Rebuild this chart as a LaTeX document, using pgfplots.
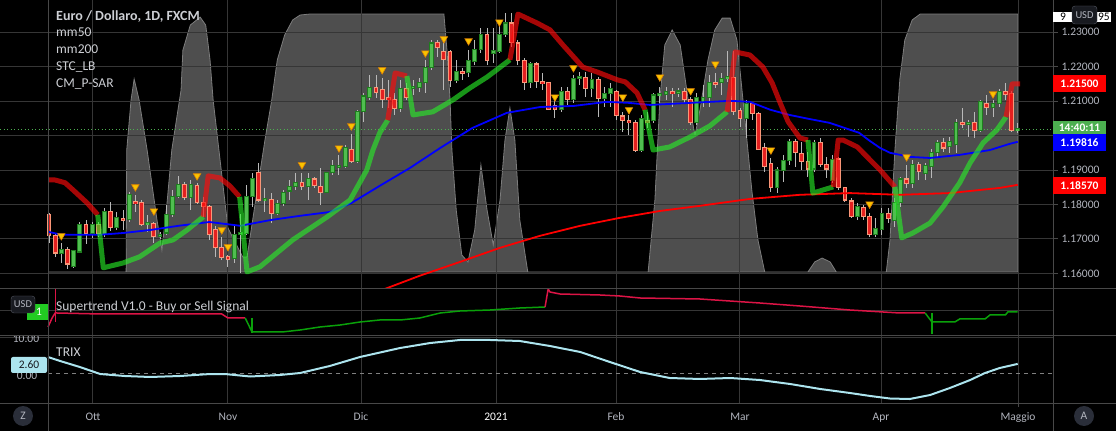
\documentclass[border=0pt]{standalone}
\usepackage{fontspec}
\setmainfont{Carlito}
\usepackage{pgfplots}
\usepackage{pgfplotstable}
\pgfplotsset{compat=1.18}

\definecolor{gridgray}{RGB}{54,54,54}
\definecolor{sepgray}{RGB}{72,72,72}
\definecolor{labelgray}{RGB}{178,181,190}
\definecolor{legendgray}{RGB}{205,207,212}
\definecolor{stcfill}{RGB}{78,78,78}
\definecolor{stcedge}{RGB}{125,125,125}
\definecolor{upfill}{RGB}{80,190,80}
\definecolor{upedge}{RGB}{30,125,30}
\definecolor{dnfill}{RGB}{228,32,32}
\definecolor{dnedge}{RGB}{250,150,120}
\definecolor{wick}{RGB}{185,185,185}
\definecolor{stopred}{RGB}{255,10,10}
\definecolor{stopgreen}{RGB}{40,240,40}
\definecolor{sargold}{RGB}{250,195,0}
\definecolor{sarorange}{RGB}{225,130,0}
\definecolor{strred}{RGB}{220,20,70}
\definecolor{strgreen}{RGB}{10,160,10}
\definecolor{trixblue}{RGB}{172,228,238}
\definecolor{pricegreen}{RGB}{76,175,80}
\definecolor{badge}{RGB}{24,26,32}
\definecolor{badgeedge}{RGB}{85,88,98}
\definecolor{signalgreen}{RGB}{34,204,34}
\definecolor{btngray}{RGB}{42,46,57}

% daily candles, x = bar index (0 = 22 Sep 2020)
\pgfplotstableread{
x o h l c
2 1.1659 1.1688 1.1630 1.1668
4 1.1619 1.1668 1.1616 1.1665
5 1.1662 1.1749 1.1659 1.1743
7 1.1717 1.1749 1.1703 1.1743
9 1.1712 1.1790 1.1706 1.1781
11 1.1732 1.1778 1.1726 1.1761
13 1.1755 1.1836 1.1749 1.1830
16 1.1743 1.1770 1.1720 1.1746
18 1.1706 1.1720 1.1700 1.1714
19 1.1717 1.1799 1.1712 1.1770
20 1.1770 1.1842 1.1764 1.1822
21 1.1822 1.1883 1.1819 1.1857
23 1.1819 1.1871 1.1784 1.1857
30 1.1642 1.1741 1.1630 1.1712
31 1.1712 1.1772 1.1601 1.1720
32 1.1717 1.1857 1.1712 1.1822
33 1.1822 1.1892 1.1793 1.1874
35 1.1812 1.1848 1.1778 1.1815
37 1.1775 1.1813 1.1770 1.1804
38 1.1804 1.1842 1.1796 1.1836
39 1.1839 1.1871 1.1813 1.1851
40 1.1851 1.1892 1.1842 1.1863
42 1.1851 1.1892 1.1813 1.1874
45 1.1836 1.1894 1.1833 1.1892
46 1.1892 1.1929 1.1886 1.1912
47 1.1910 1.1944 1.1886 1.1913
48 1.1909 1.1973 1.1906 1.1964
50 1.1924 1.2075 1.1921 1.2069
51 1.2069 1.2124 1.2040 1.2115
52 1.2112 1.2176 1.2104 1.2141
57 1.2080 1.2162 1.2069 1.2136
59 1.2136 1.2162 1.2118 1.2144
60 1.2141 1.2167 1.2127 1.2153
61 1.2153 1.2220 1.2124 1.2199
62 1.2199 1.2278 1.2191 1.2269
66 1.2159 1.2220 1.2153 1.2185
68 1.2182 1.2249 1.2170 1.2217
69 1.2214 1.2278 1.2205 1.2249
70 1.2249 1.2313 1.2240 1.2295
72 1.2240 1.2313 1.2211 1.2246
73 1.2243 1.2336 1.2240 1.2295
74 1.2295 1.2356 1.2287 1.2327
78 1.2153 1.2214 1.2138 1.2208
83 1.2077 1.2141 1.2069 1.2127
85 1.2104 1.2176 1.2095 1.2165
86 1.2165 1.2185 1.2147 1.2173
88 1.2138 1.2182 1.2112 1.2162
90 1.2109 1.2141 1.2083 1.2121
91 1.2121 1.2153 1.2083 1.2136
96 1.1958 1.2060 1.1953 1.2051
98 1.2043 1.2124 1.2037 1.2118
99 1.2117 1.2141 1.2095 1.2120
100 1.2118 1.2141 1.2104 1.2127
102 1.2125 1.2138 1.2112 1.2128
105 1.2037 1.2124 1.2031 1.2112
106 1.2095 1.2147 1.2083 1.2112
107 1.2112 1.2176 1.2083 1.2153
109 1.2153 1.2182 1.2118 1.2165
110 1.2165 1.2246 1.2156 1.2170
113 1.2051 1.2104 1.1993 1.2092
118 1.1848 1.1909 1.1833 1.1900
119 1.1900 1.1944 1.1865 1.1929
120 1.1929 1.1990 1.1915 1.1982
124 1.1903 1.1987 1.1894 1.1979
127 1.1871 1.1944 1.1863 1.1932
131 1.1764 1.1804 1.1755 1.1793
134 1.1714 1.1761 1.1706 1.1729
135 1.1726 1.1790 1.1712 1.1775
137 1.1752 1.1819 1.1735 1.1807
138 1.1807 1.1880 1.1793 1.1874
140 1.1860 1.1929 1.1848 1.1915
142 1.1889 1.1921 1.1871 1.1912
143 1.1909 1.1961 1.1877 1.1950
144 1.1950 1.1987 1.1938 1.1979
146 1.1967 1.1996 1.1950 1.1982
147 1.1973 1.2048 1.1950 1.2037
149 1.2035 1.2045 1.1996 1.2038
151 1.2014 1.2104 1.2011 1.2098
153 1.2083 1.2104 1.2054 1.2092
154 1.2092 1.2136 1.2083 1.2127
157 1.2014 1.2037 1.2008 1.2020
}\upcandles

\pgfplotstableread{
x o h l c
0 1.1772 1.1775 1.1688 1.1709
1 1.1709 1.1714 1.1648 1.1659
3 1.1668 1.1677 1.1613 1.1627
6 1.1743 1.1755 1.1685 1.1717
8 1.1743 1.1749 1.1706 1.1717
10 1.1781 1.1807 1.1723 1.1732
12 1.1759 1.1784 1.1726 1.1756
14 1.1807 1.1828 1.1778 1.1804
15 1.1807 1.1813 1.1738 1.1743
17 1.1746 1.1749 1.1688 1.1706
22 1.1857 1.1865 1.1813 1.1819
24 1.1854 1.1863 1.1801 1.1807
25 1.1807 1.1822 1.1764 1.1793
26 1.1793 1.1799 1.1697 1.1712
27 1.1726 1.1738 1.1648 1.1674
28 1.1674 1.1706 1.1639 1.1645
29 1.1646 1.1653 1.1619 1.1643
34 1.1892 1.1921 1.1807 1.1813
36 1.1813 1.1833 1.1746 1.1775
41 1.1863 1.1892 1.1842 1.1851
43 1.1874 1.1880 1.1848 1.1854
44 1.1851 1.1906 1.1799 1.1836
49 1.1961 1.2005 1.1921 1.1924
53 1.2141 1.2176 1.2109 1.2124
54 1.2133 1.2167 1.2080 1.2106
55 1.2108 1.2162 1.2080 1.2105
56 1.2104 1.2124 1.2060 1.2080
58 1.2136 1.2153 1.2104 1.2112
63 1.2269 1.2278 1.2228 1.2255
64 1.2243 1.2278 1.2133 1.2220
65 1.2243 1.2249 1.2141 1.2159
67 1.2186 1.2197 1.2162 1.2183
71 1.2295 1.2313 1.2205 1.2217
75 1.2327 1.2356 1.2257 1.2269
76 1.2269 1.2278 1.2205 1.2217
77 1.2217 1.2226 1.2133 1.2153
79 1.2208 1.2214 1.2138 1.2156
80 1.2156 1.2182 1.2133 1.2151
81 1.2153 1.2156 1.2075 1.2077
82 1.2086 1.2104 1.2051 1.2075
84 1.2127 1.2141 1.2089 1.2104
87 1.2170 1.2185 1.2112 1.2138
89 1.2162 1.2170 1.2054 1.2109
92 1.2127 1.2133 1.2045 1.2057
93 1.2057 1.2069 1.2011 1.2043
94 1.2045 1.2060 1.2002 1.2037
95 1.2037 1.2045 1.1953 1.1958
97 1.2045 1.2069 1.2022 1.2037
101 1.2127 1.2138 1.2083 1.2121
103 1.2127 1.2138 1.2095 1.2104
104 1.2106 1.2112 1.2031 1.2037
108 1.2154 1.2182 1.2138 1.2151
111 1.2170 1.2246 1.2060 1.2069
112 1.2072 1.2080 1.2025 1.2051
114 1.2092 1.2098 1.2045 1.2063
115 1.2063 1.2069 1.1958 1.1961
116 1.1964 1.1979 1.1894 1.1909
117 1.1918 1.1935 1.1836 1.1848
121 1.1982 1.1990 1.1909 1.1950
122 1.1947 1.1982 1.1900 1.1924
123 1.1926 1.1953 1.1880 1.1903
125 1.1979 1.1993 1.1909 1.1915
126 1.1915 1.1938 1.1877 1.1903
128 1.1932 1.1938 1.1842 1.1848
129 1.1848 1.1851 1.1807 1.1813
130 1.1810 1.1819 1.1761 1.1764
132 1.1790 1.1799 1.1755 1.1764
133 1.1764 1.1775 1.1706 1.1714
136 1.1775 1.1790 1.1746 1.1758
139 1.1874 1.1915 1.1848 1.1860
141 1.1915 1.1924 1.1871 1.1897
145 1.1979 1.1993 1.1953 1.1964
148 1.2038 1.2080 1.2022 1.2035
150 1.2037 1.2069 1.1993 1.2014
152 1.2092 1.2118 1.2060 1.2083
155 1.2127 1.2153 1.2104 1.2118
156 1.2121 1.2130 1.2011 1.2014
}\dncandles

% STC_LB oscillator (0-100)
\pgfplotstableread{
x v
-0.16 0
12.5 0
12.6 47.3
13.3 66.7
13.8 74.8
14.6 66.7
15.9 47.3
17.5 20.2
18.3 8.5
19.1 26
19.9 47.3
20.9 62.8
21.4 70.5
21.7 86
22.9 95.7
24.5 98.8
25.4 95.7
26.1 82.2
26.6 66.7
29.0 17.1
31.4 5.8
32.1 5.8
33.5 27.9
35.0 51.2
36.1 66.7
37.0 82.2
38.2 91.9
39.5 97.7
40.7 99.6
42.3 100
64.0 100
64.5 86
65.0 66.7
65.3 47.3
66.0 24
66.9 6.6
67.9 3.9
69.0 16.3
70.0 41.5
71.0 24
72.0 10.5
73.1 27.9
73.9 51.2
74.7 63.6
75.5 51.2
76.3 20.2
77.6 0
97.1 0
98.2 27.9
99.0 66.7
99.8 88
101.0 93.8
102.3 88
103.6 66.7
104.7 53
105.5 62.8
106.8 82.2
107.9 93.8
109.1 98.4
110.4 98.4
111.5 89.9
112.8 58.9
113.9 31.8
114.9 12.4
116.0 0
123.0 0
124.1 3.9
125.3 5.4
126.6 3.9
127.6 0
135.7 0
136.3 12.4
137.1 47.3
137.9 74.8
138.7 89.9
139.9 97.7
141.2 100
157.0 100
}\stc

\pgfplotstableread{
x y
0 1.1720
2 1.1712
8.3 1.1712
12 1.1717
16.5 1.1726
21 1.1738
26 1.1749
31 1.1738
36 1.1755
40.7 1.1767
45.5 1.1778
49 1.1804
53.6 1.1854
58.5 1.1906
63.4 1.1964
68.6 1.2022
74.2 1.2066
79.6 1.2083
85 1.2086
90.4 1.2098
94 1.2095
97.4 1.2089
103.9 1.2095
110.4 1.2101
113.6 1.2098
116.9 1.2075
120 1.2060
123.3 1.2048
126.5 1.2037
128 1.2028
131.3 1.2008
133 1.1985
134.7 1.1964
136.3 1.1950
139.6 1.1938
142.8 1.1935
147.6 1.1944
152.5 1.1958
155.7 1.1976
157 1.1982
}\mmfifty

\pgfplotstableread{
x y
52 1.1543
54.5 1.1555
60.1 1.1593
66.6 1.1633
73.1 1.1674
79.6 1.1709
86.1 1.1738
92.5 1.1761
99.0 1.1781
105.5 1.1796
113.6 1.1816
121.7 1.1828
129.8 1.1833
137.9 1.1828
146.0 1.1833
154.1 1.1848
157 1.1857
}\mmtwohundred

\pgfplotstableread{
x y
2 1.1709
14 1.1851
17 1.1781
24 1.1883
28 1.1726
29 1.1677
41 1.1915
47 1.1964
49 1.2028
54 1.2191
61 1.2240
64 1.2281
68 1.2275
73 1.2330
82 1.2112
85 1.2197
93 1.2112
94 1.2075
99 1.2170
104 1.2130
108 1.2208
117 1.1958
133 1.1801
139 1.1938
153 1.2121
}\psar

\pgfplotstableread{
x v
-0.16 4.57
1.8 3.43
5.0 1.71
8.3 -0.29
12.3 -0.86
16.4 -1.14
21.2 -0.86
26.1 -0.29
28.5 -0.29
32.6 -1.0
37.4 -0.57
40.7 0
45.5 2.0
50.4 4.57
56.9 7.14
61.8 8.57
66.6 9.43
71.5 9.43
76.3 9.14
81.2 7.71
86.1 6.0
90.9 3.14
95.8 0.29
100.6 -1.43
105.5 -1.71
110.4 -1.43
115.2 -2.0
120.1 -3.14
125.0 -4.57
129.8 -5.71
133.1 -6.57
136.3 -7.29
139.5 -7.43
142.8 -6.29
146.0 -4.29
149.3 -2.0
151.7 0
154.1 1.43
157 2.60
}\trix

\newcommand\lblfont{\fontsize{11.5}{13}\selectfont}
\newcommand\legfont{\fontsize{13.5}{15}\selectfont}

\pgfplotsset{pane/.style={anchor=south west,scale only axis,width=1053pt,
  xmin=-7.942,xmax=162.72}}

\begin{document}
\begin{tikzpicture}
\fill[black] (0pt,0pt) rectangle (1116pt,431pt);

% STC_LB shaded oscillator, own 0-100 scale over the price pane
\begin{axis}[pane,at={(0pt,143pt)},height=288pt,ymin=-6.2,ymax=105.43,hide axis]
\addplot[fill=stcfill,draw=stcedge,line width=0.8pt] table[x=x,y=v] {\stc} \closedcycle;
\end{axis}

% price pane
\begin{axis}[pane,at={(0pt,143pt)},height=288pt,ymin=1.15573,ymax=1.23938,
  axis line style={draw=none},
  xtick={-0.16,7.13,29.01,50.57,72.45,91.90,111.99,134.85,157.05},xticklabels={},
  ytick={1.16,1.17,1.18,1.19,1.20,1.21,1.22,1.23},
  yticklabels={1.16000,1.17000,1.18000,1.19000,,1.21000,1.22000,1.23000},
  ytick pos=right,yticklabel pos=right,tick align=outside,major tick length=5pt,
  xtick style={draw=none},ytick style={draw=sepgray,line width=0.8pt},
  yticklabel style={font=\lblfont,text=labelgray},
  grid=major,major grid style={draw=gridgray,line width=1pt}]

\addplot[draw=pricegreen,line width=1pt,dash pattern=on 1pt off 2.5pt] coordinates {(-7.94,1.2019) (162.72,1.2019)};

% wicks
\addplot[draw=none,error bars/.cd,y dir=both,y explicit,error mark=none,
  error bar style={draw=wick,line width=1pt}]
  table[x=x,y expr={(\thisrow{h}+\thisrow{l})/2},y error expr={(\thisrow{h}-\thisrow{l})/2}] {\upcandles};
\addplot[draw=none,error bars/.cd,y dir=both,y explicit,error mark=none,
  error bar style={draw=wick,line width=1pt}]
  table[x=x,y expr={(\thisrow{h}+\thisrow{l})/2},y error expr={(\thisrow{h}-\thisrow{l})/2}] {\dncandles};
% bodies: border then fill
\addplot[draw=none,error bars/.cd,y dir=both,y explicit,error mark=none,
  error bar style={draw=upedge,line width=4.8pt}]
  table[x=x,y expr={(\thisrow{o}+\thisrow{c})/2},y error expr={max(abs(\thisrow{o}-\thisrow{c})/2,0.0003)+0.00015}] {\upcandles};
\addplot[draw=none,error bars/.cd,y dir=both,y explicit,error mark=none,
  error bar style={draw=upfill,line width=2.8pt}]
  table[x=x,y expr={(\thisrow{o}+\thisrow{c})/2},y error expr={max(abs(\thisrow{o}-\thisrow{c})/2,0.0003)-0.00015}] {\upcandles};
\addplot[draw=none,error bars/.cd,y dir=both,y explicit,error mark=none,
  error bar style={draw=dnedge,line width=4.8pt}]
  table[x=x,y expr={(\thisrow{o}+\thisrow{c})/2},y error expr={max(abs(\thisrow{o}-\thisrow{c})/2,0.0003)+0.00015}] {\dncandles};
\addplot[draw=none,error bars/.cd,y dir=both,y explicit,error mark=none,
  error bar style={draw=dnfill,line width=2.8pt}]
  table[x=x,y expr={(\thisrow{o}+\thisrow{c})/2},y error expr={max(abs(\thisrow{o}-\thisrow{c})/2,0.0003)-0.00015}] {\dncandles};

% moving averages
\addplot[draw=blue,line width=1.8pt] table[x=x,y=y] {\mmfifty};
\addplot[draw=red,line width=1.8pt] table[x=x,y=y] {\mmtwohundred};

% trailing stop line
\pgfplotsset{stopR/.style={draw=stopred,line width=5pt,opacity=0.65,line join=round},
             stopG/.style={draw=stopgreen,line width=5pt,opacity=0.62,line join=round}}
\addplot[stopR] coordinates {(-0.16,1.1871) (1,1.1871) (2.6,1.1863) (3.9,1.1842) (6.2,1.1804) (7.9,1.1770)};
\addplot[stopG] coordinates {(7.9,1.1770) (8.8,1.1616) (12.0,1.1630) (14.7,1.1648) (18.0,1.1688) (20.1,1.1697) (22.4,1.1726) (25.0,1.1764)};
\addplot[stopR] coordinates {(25.0,1.1764) (25.8,1.1883) (27.7,1.1877) (29.3,1.1854) (30.9,1.1822)};
\addplot[stopG] coordinates {(30.9,1.1822) (32.1,1.1604) (34.2,1.1619) (39.5,1.1697) (45.1,1.1764) (48.8,1.1813) (51.5,1.1900) (52.5,1.1958) (53.6,1.2008) (54.9,1.2045)};
\addplot[stopR] coordinates {(54.9,1.2045) (56.1,1.2182) (58.0,1.2173)};
\addplot[stopG] coordinates {(58.0,1.2173) (59.0,1.2060) (62.2,1.2069) (65.5,1.2104) (68.2,1.2138) (71.0,1.2170) (74.7,1.2220)};
\addplot[stopR] coordinates {(74.7,1.2220) (76.0,1.2353) (79.1,1.2327) (81.2,1.2307) (83.3,1.2263) (86.5,1.2199) (88.8,1.2185) (92.1,1.2162) (93.4,1.2156) (95.3,1.2124) (96.6,1.2075)};
\addplot[stopG] coordinates {(96.6,1.2075) (97.9,1.1958) (100.6,1.1967) (103.9,1.1996) (107.1,1.2028) (109.9,1.2069)};
\addplot[stopR] coordinates {(109.9,1.2069) (111.2,1.2243) (113.6,1.2234) (115.7,1.2199) (117.2,1.2153) (118.5,1.2095) (119.8,1.2040) (121.7,1.1993) (123.0,1.1987)};
\addplot[stopG] coordinates {(123.0,1.1987) (123.8,1.1833) (127.1,1.1851)};
\addplot[stopR] coordinates {(127.1,1.1851) (127.9,1.1987) (128.7,1.1987) (131.0,1.1967) (132.6,1.1938) (134.7,1.1900) (137.1,1.1851)};
\addplot[stopG] coordinates {(137.1,1.1851) (138.2,1.1703) (140.0,1.1717) (142.8,1.1746) (144.9,1.1793) (147.6,1.1863) (149.3,1.1921) (151.4,1.1979) (153.6,1.2016) (155.1,1.2054)};
\addplot[stopR] coordinates {(155.1,1.2054) (156.1,1.2150) (157.4,1.2150)};

% P-SAR markers
\addplot[only marks,mark=triangle*,mark size=4.3pt,
  mark options={rotate=180,fill=sargold,draw=sarorange,line width=0.6pt}] table[x=x,y=y] {\psar};
\end{axis}

% Supertrend pane
\begin{axis}[pane,at={(0pt,96pt)},height=46pt,ymin=0,ymax=46,
  axis line style={draw=none},
  xtick={-0.16,7.13,29.01,50.57,72.45,91.90,111.99,134.85,157.05},xticklabels={},
  ytick={24},yticklabels={},tick style={draw=none},
  grid=major,major grid style={draw=gridgray,line width=1pt}]
\addplot[draw=strred,line width=1.5pt] coordinates {(-0.16,8) (0.5,17) (1.0,22) (1.3,22) (8.3,21) (28.0,21) (29.0,17) (31.8,17)};
\addplot[draw=strred,line width=1.2pt] coordinates {(1.0,46) (1.0,13)};
\addplot[draw=strgreen,line width=1.5pt] coordinates {(31.8,17) (32.9,3) (37.8,3) (40.7,5) (43.9,8) (47.2,10) (50.4,13) (53.6,15) (56.9,15) (60.1,17) (63.4,22) (66.6,24) (71.5,25) (76.3,27) (80.4,28)};
\addplot[draw=strgreen,line width=1.2pt] coordinates {(32.9,17) (32.9,2)};
\addplot[draw=strred,line width=1.5pt] coordinates {(80.4,28) (80.9,46) (81.2,43) (82.8,41) (89.3,40) (92.5,39) (95.8,37) (105.5,36) (115.2,32) (121.7,29) (129.8,25) (137.9,22) (142.0,22)};
\addplot[draw=strgreen,line width=1.5pt] coordinates {(142.0,22) (143.1,13) (146.8,13) (147.6,16) (151.7,16) (152.5,20) (155.0,20) (155.4,23) (157,23)};
\addplot[draw=strgreen,line width=1.2pt] coordinates {(143.1,22) (143.1,1)};
\end{axis}

% TRIX pane
\begin{axis}[pane,at={(0pt,28pt)},height=67pt,ymin=-8.571,ymax=10.571,
  axis line style={draw=none},
  xtick={-0.16,7.13,29.01,50.57,72.45,91.90,111.99,134.85,157.05},xticklabels={},
  ytick={10},yticklabels={},tick style={draw=none},
  grid=major,major grid style={draw=gridgray,line width=1pt}]
\addplot[draw=gray,line width=0.9pt,dash pattern=on 4pt off 4pt] coordinates {(-0.16,0) (162.72,0)};
\addplot[draw=trixblue,line width=2pt] table[x=x,y=v] {\trix};
\end{axis}

\begin{scope}[x=1pt,y=1pt]
% pane separators and scale borders
\draw[sepgray,line width=1pt] (0,142.5) -- (1116,142.5);
\draw[sepgray,line width=1pt] (0,28) -- (1116,28);
\node[font=\lblfont,text=labelgray,inner sep=0pt] at (26,92) {10.00};
\fill[black] (0,96) rectangle (47.5,101);
\draw[sepgray,line width=1pt] (0,95.5) -- (1116,95.5);
\draw[sepgray,line width=1pt] (48,0) -- (48,431);
\draw[sepgray,line width=1pt] (1053,0) -- (1053,431);
\draw[sepgray,line width=1pt] (1018,28) -- (1018,24);

% legends
\node[anchor=base west,inner sep=0pt,font=\fontsize{14}{16}\selectfont\bfseries,text=legendgray] at (56,410) {Euro / Dollaro, 1D, FXCM};
\node[anchor=base west,inner sep=0pt,font=\legfont,text=legendgray] at (56,394) {mm50};
\node[anchor=base west,inner sep=0pt,font=\legfont,text=legendgray] at (56,377) {mm200};
\node[anchor=base west,inner sep=0pt,font=\legfont,text=legendgray] at (56,360) {STC\_LB};
\node[anchor=base west,inner sep=0pt,font=\legfont,text=legendgray] at (56,343) {CM\_P-SAR};
\node[anchor=base west,inner sep=0pt,font=\legfont,text=legendgray] at (56,120) {Supertrend V1.0 - Buy or Sell Signal};
\node[anchor=base west,inner sep=0pt,font=\legfont,text=legendgray] at (56,74) {TRIX};

% right price labels
\fill[white] (1053,409) rectangle (1111,419);
\node[font=\lblfont,text=black,anchor=base west,inner sep=0pt] at (1060,410.5) {9};
\node[font=\lblfont,text=black,anchor=base east,inner sep=0pt] at (1110,410.5) {95};
\draw[fill=badge,draw=badgeedge,rounded corners=3pt] (1072,407) rectangle (1097,425);
\node[font=\fontsize{10.5}{12}\selectfont,text=labelgray,inner sep=0pt] at (1084.5,416) {USD};
\fill[red] (1053,339) rectangle (1106,356);
\node[font=\lblfont\bfseries,text=white,inner sep=0pt] at (1079.5,347.5) {1.21500};
\fill[pricegreen] (1053,297) rectangle (1106,310);
\node[font=\lblfont\bfseries,text=white,inner sep=0pt] at (1079.5,303.5) {14:40:11};
\fill[blue] (1053,280) rectangle (1106,297);
\node[font=\lblfont\bfseries,text=white,inner sep=0pt] at (1079.5,288.5) {1.19816};
\fill[red] (1053,237) rectangle (1106,254);
\node[font=\lblfont\bfseries,text=white,inner sep=0pt] at (1079.5,245.5) {1.18570};

% left pane labels
\fill[signalgreen] (27,111) rectangle (48,127);
\node[font=\lblfont,text=white,inner sep=0pt] at (39,119) {1};
\draw[fill=badge,draw=badgeedge,rounded corners=3pt] (11,118) rectangle (35,135);
\node[font=\fontsize{10.5}{12}\selectfont,text=labelgray,inner sep=0pt] at (23,126.5) {USD};
\node[font=\lblfont,text=labelgray,inner sep=0pt] at (27,55) {0.00};
\fill[trixblue,rounded corners=2pt] (11,58) rectangle (47,74);
\node[font=\lblfont,text=badge,inner sep=0pt] at (29,66) {2.60};

% time axis
\foreach \px/\lab in {93/Ott,228/Nov,361/Dic,616/Feb,740/Mar,881/Apr,1018/Maggio}
  \node[anchor=base,font=\lblfont,text=labelgray] at (\px,11) {\lab};
\node[anchor=base,font=\lblfont,text=white] at (496,11) {2021};
\fill[btngray] (23,15) circle (10);
\node[font=\lblfont,text=labelgray] at (23,15) {Z};
\fill[btngray] (1084,15) circle (10);
\node[font=\lblfont,text=labelgray] at (1084,15) {A};
\end{scope}

\pgfresetboundingbox
\path[use as bounding box] (0pt,0pt) rectangle (1116pt,431pt);
\end{tikzpicture}
\end{document}
